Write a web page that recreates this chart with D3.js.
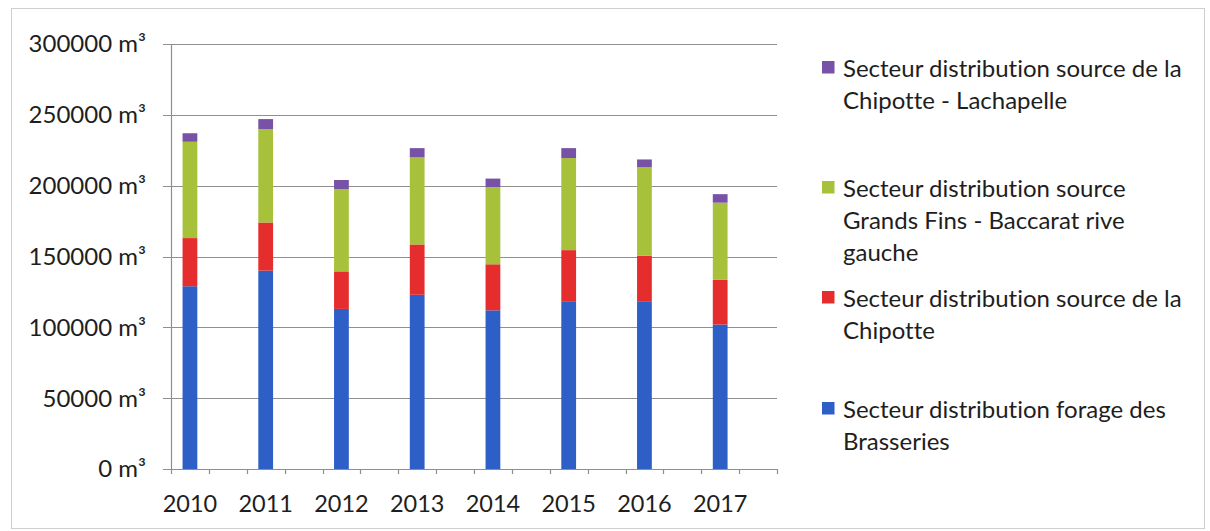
<!DOCTYPE html>
<html>
<head>
<meta charset="utf-8">
<script src="https://cdn.jsdelivr.net/npm/d3@7"></script>
<style>
  html, body { margin: 0; padding: 0; background: #fff; }
  svg { display: block; font-family: Lato, "Open Sans", sans-serif; font-variant-ligatures: none; }
</style>
</head>
<body>
<svg id="chart" width="1210" height="531"></svg>
<script>
const years = ["2010", "2011", "2012", "2013", "2014", "2015", "2016", "2017"];

// m³ per year, per sector (bottom to top of the stack)
const brasseries = [129000, 140000, 113000, 123000, 112000, 118000, 118000, 102000];
const chipotte = [34000, 34000, 26500, 35500, 32500, 36500, 32500, 31500];
const grandsFins = [68000, 66000, 58000, 61500, 54500, 65000, 62500, 54500];
const lachapelle = [6000, 7000, 6500, 6500, 6000, 7000, 5500, 6000];

const yTicks = [0, 50000, 100000, 150000, 200000, 250000, 300000];

const seriesKeys = ["brasseries", "chipotte", "grandsFins", "lachapelle"];
const seriesColors = ["#2d5fc7", "#e52d2d", "#a7c23a", "#7752a6"];
const seriesLabels = [
  ["Secteur distribution forage des", "Brasseries"],
  ["Secteur distribution source de la", "Chipotte"],
  ["Secteur distribution source", "Grands Fins - Baccarat rive", "gauche"],
  ["Secteur distribution source de la", "Chipotte - Lachapelle"],
];

const table = years.map((y, i) => ({
  year: y,
  brasseries: brasseries[i],
  chipotte: chipotte[i],
  grandsFins: grandsFins[i],
  lachapelle: lachapelle[i],
}));

const svg = d3.select("#chart");
const plot = { left: 171, right: 777, top: 44, bottom: 469 };
const textColor = "#1e1e1e";
const gridColor = "#8f8f8f";
const fontSize = 24;

// outer frame
svg.append("rect")
  .attr("x", 11.5).attr("y", 8.5)
  .attr("width", 1193).attr("height", 520)
  .attr("fill", "none")
  .attr("stroke", "#cfcfcf");

const x = d3.scaleBand().domain(years).range([plot.left, plot.right]).padding(0);
const y = d3.scaleLinear().domain([0, 300000]).range([plot.bottom, plot.top]);

// each year takes two slots, the bar sits in the first one
const slot = x.bandwidth() / 2;
const barW = slot * 0.39;
const barCenter = (d) => x(d) + slot / 2;

// horizontal grid + y ticks
svg.append("g")
  .selectAll("line")
  .data(yTicks)
  .join("line")
  .attr("x1", plot.left - 8)
  .attr("x2", plot.right)
  .attr("y1", (d) => Math.round(y(d)) + 0.5)
  .attr("y2", (d) => Math.round(y(d)) + 0.5)
  .attr("stroke", gridColor)
  .attr("stroke-width", 1.2);

svg.append("g")
  .selectAll("text")
  .data(yTicks)
  .join("text")
  .attr("x", 146)
  .attr("y", (d) => y(d))
  .attr("dy", "0.35em")
  .attr("text-anchor", "end")
  .attr("fill", textColor)
  .attr("font-size", fontSize)
  .text((d) => `${d} m³`);

// y axis line
svg.append("line")
  .attr("x1", plot.left + 0.5).attr("x2", plot.left + 0.5)
  .attr("y1", plot.top).attr("y2", plot.bottom)
  .attr("stroke", gridColor)
  .attr("stroke-width", 1.2);

// x tick marks at every slot edge
const xTickPos = [];
years.forEach((yr) => { xTickPos.push(x(yr), x(yr) + slot); });
xTickPos.push(plot.right);

svg.append("g")
  .selectAll("line")
  .data(xTickPos)
  .join("line")
  .attr("x1", (d) => Math.round(d) + 0.5)
  .attr("x2", (d) => Math.round(d) + 0.5)
  .attr("y1", plot.bottom)
  .attr("y2", plot.bottom + 5)
  .attr("stroke", gridColor)
  .attr("stroke-width", 1.2);

// stacked bars
const stack = d3.stack().keys(seriesKeys)(table);

svg.append("g")
  .selectAll("g")
  .data(stack)
  .join("g")
  .attr("fill", (d, i) => seriesColors[i])
  .selectAll("rect")
  .data((d) => d)
  .join("rect")
  .attr("x", (d) => barCenter(d.data.year) - barW / 2)
  .attr("width", barW)
  .attr("y", (d) => y(d[1]))
  .attr("height", (d) => y(d[0]) - y(d[1]));

// year labels
svg.append("g")
  .selectAll("text")
  .data(years)
  .join("text")
  .attr("x", (d) => barCenter(d))
  .attr("y", 512)
  .attr("text-anchor", "middle")
  .attr("fill", textColor)
  .attr("font-size", 23.5)
  .text((d) => d);

// legend, top entry is the top of the stack
const legendTop = [77, 197, 307, 418];
const lineGap = 32;
const legendOrder = [3, 2, 1, 0];

const legend = svg.append("g")
  .selectAll("g")
  .data(legendOrder)
  .join("g")
  .attr("transform", (d, i) => `translate(0,${legendTop[i]})`);

legend.append("rect")
  .attr("x", 822)
  .attr("y", -16)
  .attr("width", 12.5)
  .attr("height", 12.5)
  .attr("fill", (d) => seriesColors[d]);

legend.append("text")
  .attr("fill", textColor)
  .attr("font-size", fontSize)
  .selectAll("tspan")
  .data((d) => seriesLabels[d])
  .join("tspan")
  .attr("x", 843)
  .attr("y", (d, i) => i * lineGap)
  .text((d) => d);
</script>
</body>
</html>
